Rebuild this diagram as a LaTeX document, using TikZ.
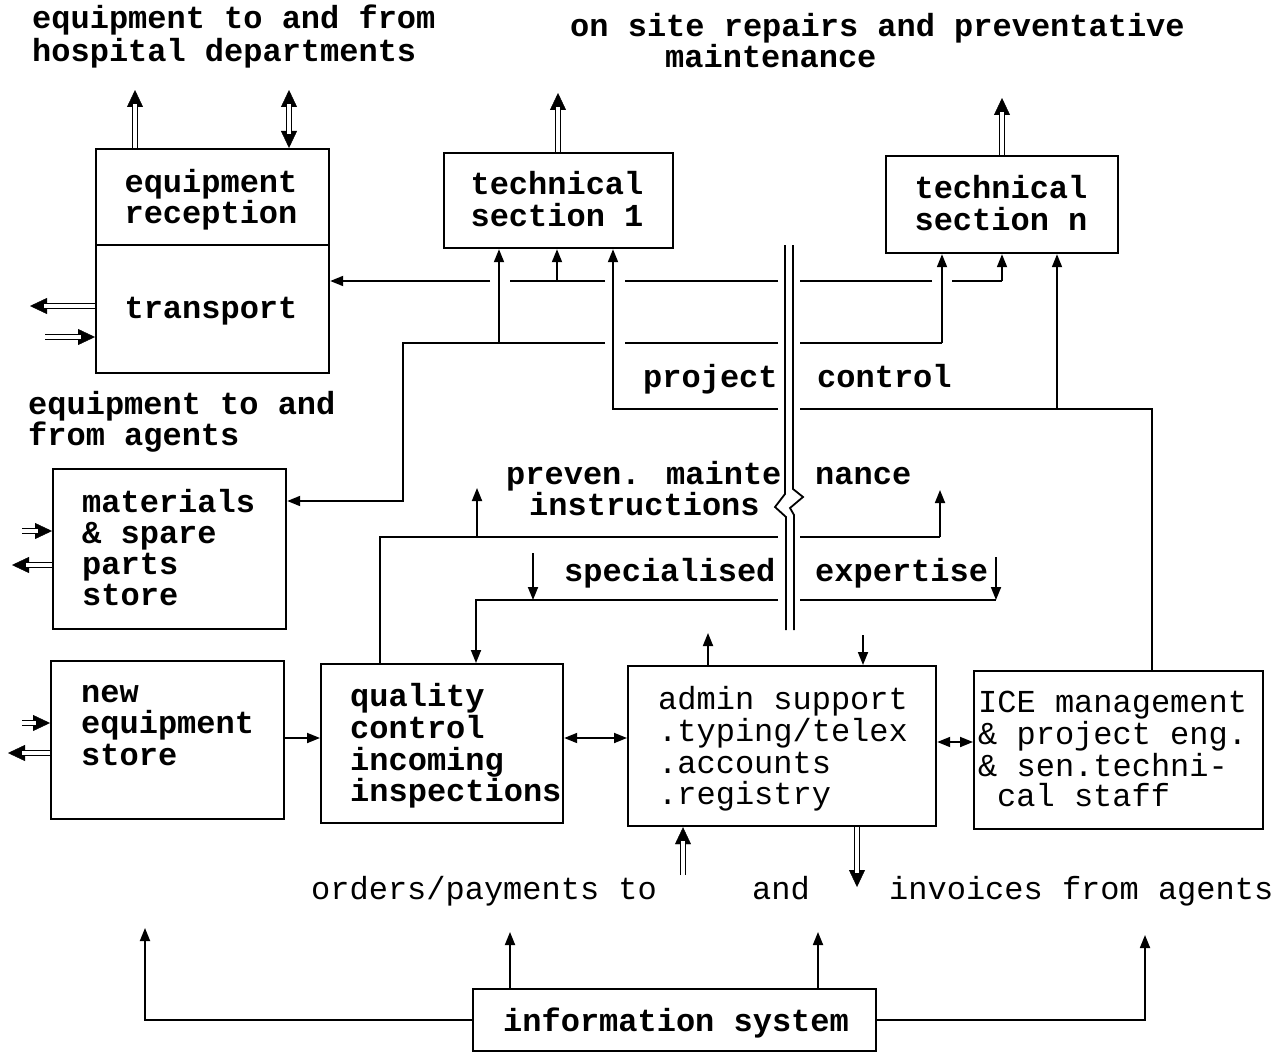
\documentclass[tikz,border=0pt]{standalone}
\usepackage{fontspec}
\newfontfamily\twf{Liberation Mono}
\usetikzlibrary{arrows.meta}
\tikzset{
  box/.style={draw, line width=2.2pt, inner sep=0pt, anchor=north west},
  txt/.style={font=\twf\bfseries\fontsize{32}{32}\selectfont, inner sep=0pt},
  txr/.style={font=\twf\fontsize{32}{32}\selectfont, inner sep=0pt},
  ln/.style={line width=1.8pt},
  arr/.style={line width=1.8pt, -{Triangle[length=13pt,width=10pt]}},
  barr/.style={line width=1.8pt, {Triangle[length=13pt,width=10pt]}-{Triangle[length=13pt,width=10pt]}},
  tipone/.style={line width=0.4pt, -{Triangle[length=17pt,width=16pt]}},
  tiptwo/.style={line width=0.4pt, {Triangle[length=17pt,width=16pt]}-{Triangle[length=17pt,width=16pt]}},
  dshaft/.style={double, double distance=3.6pt, line width=1.4pt}
}
\newcommand\myDA[2]{\draw[tipone] (#1) -- (#2); \draw[dshaft, shorten >=14pt] (#1) -- (#2);}
\newcommand\myDB[2]{\draw[tiptwo] (#1) -- (#2); \draw[dshaft, shorten >=14pt, shorten <=14pt] (#1) -- (#2);}
\begin{document}
\begin{tikzpicture}[x=1pt,y=-1pt]
\useasboundingbox (0,0) rectangle (1285,1054);
% ---------- boxes
\node[box, minimum width=233, minimum height=96]  (recep)  at (95,148) {};
\node[box, minimum width=233, minimum height=128] (transp) at (95,244) {};
\node[box, minimum width=229, minimum height=95]  (tech1)  at (443,152) {};
\node[box, minimum width=232, minimum height=97]  (techn)  at (885,155) {};
\node[box, minimum width=233, minimum height=160] (mat)    at (52,468) {};
\node[box, minimum width=233, minimum height=158] (neweq)  at (50,660) {};
\node[box, minimum width=242, minimum height=159] (qc)     at (320,663) {};
\node[box, minimum width=308, minimum height=160] (admin)  at (627,665) {};
\node[box, minimum width=289, minimum height=158] (ice)    at (973,670) {};
\node[box, minimum width=403, minimum height=62]  (info)   at (472,988) {};
% ---------- texts
\node[txt, anchor=base west] (h1) at (32,29) {equipment to and from};
\node[txt, anchor=base west] (h2) at (32,62) {hospital departments};
\node[txt, anchor=base west] (h3) at (570,37) {on site repairs and preventative};
\node[txt, anchor=base west] (h4) at (665,68) {maintenance};
\node[txt, anchor=base] (r1) at (211,192) {equipment};
\node[txt, anchor=base] (r2) at (211,223) {reception};
\node[txt, anchor=base] (r3) at (211,318) {transport};
\node[txt, anchor=base] (s1) at (557,194) {technical};
\node[txt, anchor=base] (s2) at (557,226) {section 1};
\node[txt, anchor=base] (n1) at (1001,198) {technical};
\node[txt, anchor=base] (n2) at (1001,230) {section n};
\node[txt, anchor=base west] (ag1) at (28,414) {equipment to and};
\node[txt, anchor=base west] (ag2) at (28,445) {from agents};
\node[txt, anchor=base west] (m1) at (82,512) {materials};
\node[txt, anchor=base west] (m2) at (82,543) {\& spare};
\node[txt, anchor=base west] (m3) at (82,574) {parts};
\node[txt, anchor=base west] (m4) at (82,605) {store};
\node[txt, anchor=base west] (e1) at (81,702) {new};
\node[txt, anchor=base west] (e2) at (81,733) {equipment};
\node[txt, anchor=base west] (e3) at (81,765) {store};
\node[txt, anchor=base west] (q1) at (350,706) {quality};
\node[txt, anchor=base west] (q2) at (350,738) {control};
\node[txt, anchor=base west] (q3) at (350,770) {incoming};
\node[txt, anchor=base west] (q4) at (350,801) {inspections};
\node[txr, anchor=base west] (a1) at (658,709) {admin support};
\node[txr, anchor=base west] (a2) at (658,741) {.typing/telex};
\node[txr, anchor=base west] (a3) at (658,773) {.accounts};
\node[txr, anchor=base west] (a4) at (658,804) {.registry};
\node[txr, anchor=base west] (i1) at (978,712) {ICE management};
\node[txr, anchor=base west] (i2) at (978,744) {\& project eng.};
\node[txr, anchor=base west] (i3) at (978,776) {\& sen.techni-};
\node[txr, anchor=base west] (i4) at (997,806) {cal staff};
\node[txt, anchor=base west] (p1) at (643,387) {project};
\node[txt, anchor=base west] (p2) at (817,387) {control};
\node[txt, anchor=base west] (v1) at (506,484) {preven. mainte};
\node[txt, anchor=base west] (v2) at (815,484) {nance};
\node[txt, anchor=base west] (v3) at (529,515) {instructions};
\node[txt, anchor=base west] (x1) at (564,581) {specialised};
\node[txt, anchor=base west] (x2) at (815,581) {expertise};
\node[txr, anchor=base west] (o1) at (311,899) {orders/payments to};
\node[txr, anchor=base west] (o2) at (752,899) {and};
\node[txr, anchor=base west] (o3) at (889,899) {invoices from agents};
\node[txt, anchor=base west] (is) at (503,1031) {information system};
% ---------- outer double arrows
\coordinate (U1) at (135,90);  \myDA{U1 |- recep.north}{U1}
\coordinate (U2) at (289,90);  \myDB{U2 |- recep.north}{U2}
\coordinate (U3) at (558,93);  \myDA{U3 |- tech1.north}{U3}
\coordinate (U4) at (1002,98); \myDA{U4 |- techn.north}{U4}
\coordinate (T1) at (30,306);  \myDA{T1 -| transp.west}{T1}
\coordinate (T2) at (45,337);  \myDA{T2}{T2 -| transp.west}
\coordinate (M1) at (22,531);  \myDA{M1}{M1 -| mat.west}
\coordinate (M2) at (12,565);  \myDA{M2 -| mat.west}{M2}
\coordinate (N1) at (22,723);  \myDA{N1}{N1 -| neweq.west}
\coordinate (N2) at (8,753);   \myDA{N2 -| neweq.west}{N2}
\coordinate (G1) at (683,875); \myDA{G1}{G1 |- admin.south}
\coordinate (G2) at (857,887); \myDA{G2 |- admin.south}{G2}
% ---------- line A (y=281)
\coordinate (A0) at (1002,281);
\coordinate (A1) at (557,281);
\draw[arr] (A0) -- (A0 |- techn.south);
\draw[ln] (A0) -- (952,281);
\draw[ln] (932,281) -- (800,281);
\draw[ln] (778,281) -- (625,281);
\draw[ln] (605,281) -- (510,281);
\draw[arr] (A1) -- (A1 |- tech1.south);
\draw[arr] (490,281) -- (A0 -| transp.east);
% ---------- line B (y=343)
\coordinate (B0) at (942,343);
\coordinate (B1) at (499,343);
\coordinate (B2) at (403,501);
\draw[arr] (B0) -- (B0 |- techn.south);
\draw[ln] (B0) -- (800,343);
\draw[ln] (778,343) -- (625,343);
\draw[arr] (605,343) -| (B2) -- (B2 -| mat.east);
\draw[arr] (B1) -- (B1 |- tech1.south);
% ---------- line C (y=409)
\coordinate (C0) at (1152,409);
\coordinate (C1) at (1057,409);
\coordinate (C2) at (613,409);
\draw[ln] (C0 |- ice.north) -- (C0) -- (800,409);
\draw[arr] (C1) -- (C1 |- techn.south);
\draw[arr] (778,409) -- (C2) -- (C2 |- tech1.south);
% ---------- double separator line with break
\draw[ln] (785,245) -- (785,494) -- (775,507) -- (786,517) -- (786,630);
\draw[ln] (793,245) -- (793,489) -- (803,497) -- (790,508) -- (794,515) -- (794,630);
% ---------- line D (y=537)
\coordinate (D0) at (380,537);
\coordinate (D1) at (477,537);
\coordinate (D2) at (940,537);
\draw[ln] (D0 |- qc.north) -- (D0) -- (778,537);
\draw[ln] (800,537) -- (D2);
\draw[arr] (D1) -- (477,488);
\draw[arr] (D2) -- (940,490);
% ---------- line E (y=600)
\coordinate (E0) at (476,600);
\draw[arr] (778,600) -- (E0) -- (E0 |- qc.north);
\draw[ln] (800,600) -- (996,600);
\draw[arr] (996,557) -- (996,600);
\draw[arr] (533,553) -- (533,600);
% ---------- admin top arrows
\coordinate (F1) at (708,633); \draw[arr] (F1 |- admin.north) -- (F1);
\coordinate (F2) at (863,635); \draw[arr] (F2) -- (F2 |- admin.north);
% ---------- horizontal connections bottom row
\coordinate (H1) at (300,738);
\coordinate (H2) at (950,742);
\draw[arr] (H1 -| neweq.east) -- (H1 -| qc.west);
\draw[barr] (H1 -| qc.east) -- (H1 -| admin.west);
\draw[barr] (H2 -| admin.east) -- (H2 -| ice.west);
% ---------- information system
\coordinate (I1) at (145,928);
\coordinate (I2) at (510,932);
\coordinate (I3) at (818,932);
\coordinate (I4) at (1145,935);
\draw[arr] (info.west) -| (I1);
\draw[arr] (I2 |- info.north) -- (I2);
\draw[arr] (I3 |- info.north) -- (I3);
\draw[arr] (info.east) -| (I4);
\end{tikzpicture}
\end{document}
